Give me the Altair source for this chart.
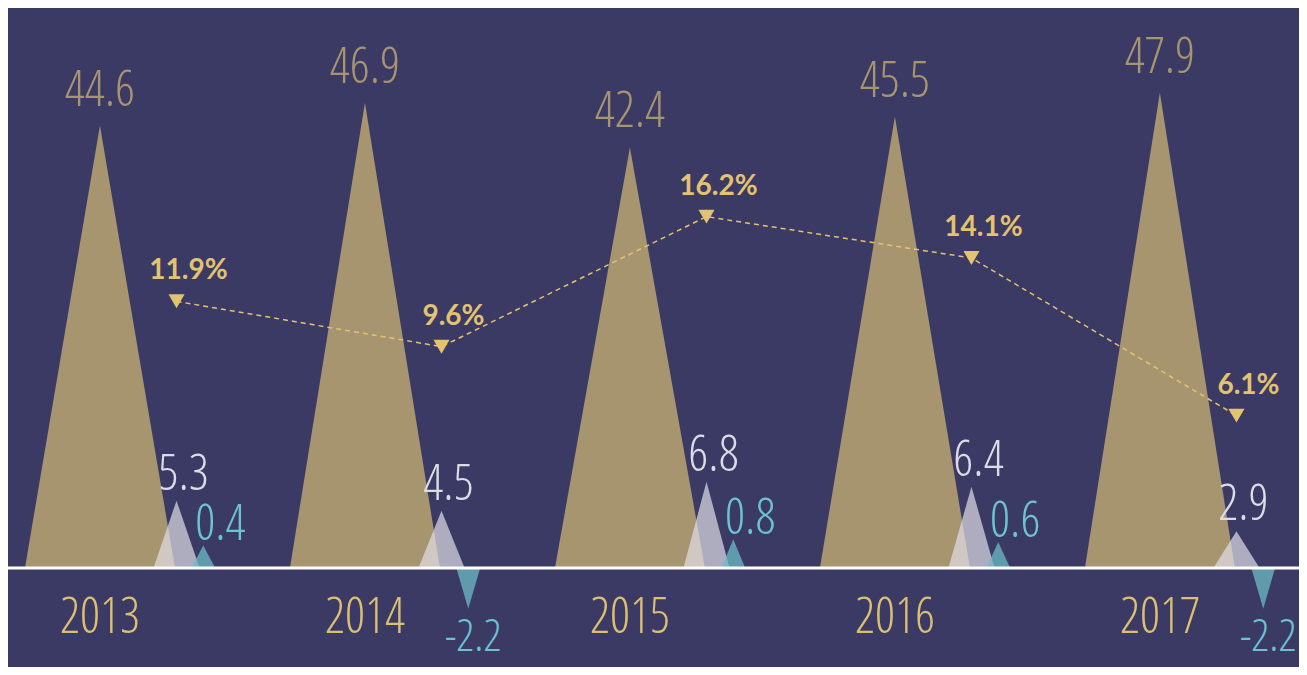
import altair as alt
import pandas as pd

# ---------------- data ----------------
years = ["2013", "2014", "2015", "2016", "2017"]
main_vals = [44.6, 46.9, 42.4, 45.5, 47.9]
second_vals = [5.3, 4.5, 6.8, 6.4, 2.9]
third_vals = [0.4, -2.2, 0.8, 0.6, -2.2]
pct_vals = [11.9, 9.6, 16.2, 14.1, 6.1]

# ---------------- style ----------------
W, H = 1291, 659
BG = "#3a3a64"
TAN = "#a79570"
GREY = "#e0dee7"
TEAL = "#6cbbc5"
GOLD = "#e3c270"
YEAR_C = "#dcbf72"
GREY_TXT = "#dcdce6"
TEAL_TXT = "#6cc3d1"
COND = "Noto Sans ExtraCondensed Light, Noto Sans ExtraCondensed, Open Sans Condensed Light, Liberation Sans Narrow, DejaVu Sans Condensed, sans-serif"
BOLD = "Lato, Open Sans, sans-serif"
NUM_SIZE = 50

OFF_MAIN, HALF_MAIN = 0.0, 0.283
OFF_SEC, HALF_SEC = 0.289, 0.087
OFF_THIRD, HALF_THIRD = 0.39, 0.045

x_scale = alt.Scale(domain=[-0.347, 4.525], nice=False, zero=False)
main_scale = alt.Scale(domain=[-9.98, 56.45], nice=False, zero=False)
sec_scale = alt.Scale(domain=[-7.795, 44.09], nice=False, zero=False)
third_scale = alt.Scale(type="pow", exponent=0.35, domain=[-27.6, 3892], nice=False, zero=False)
pct_scale = alt.Scale(domain=[-6.66, 26.79], nice=False, zero=False)


def triangles(values, offset, half):
    rows = []
    for i, v in enumerate(values):
        for dx, yy in ((-half, 0.0), (0.0, v), (half, 0.0)):
            rows.append({"tri": i, "x": i + offset + dx, "y": yy, "base": 0.0})
    return pd.DataFrame(rows)


df = pd.DataFrame({
    "i": list(range(len(years))),
    "year": years,
    "main": main_vals,
    "second": second_vals,
    "third": third_vals,
    "pct": pct_vals,
    "main_lbl": [f"{v:.1f}" for v in main_vals],
    "second_lbl": [f"{v:.1f}" for v in second_vals],
    "third_lbl": [f"{v:.1f}" for v in third_vals],
    "pct_lbl": [f"{v:.1f}%" for v in pct_vals],
})

base = alt.Chart(df).transform_calculate(
    xm=f"datum.i + {OFF_MAIN}",
    xs=f"datum.i + {OFF_SEC}",
    xt=f"datum.i + {OFF_THIRD}",
)


def tri_layer(values, offset, half, color, scale, opacity):
    return alt.Chart(triangles(values, offset, half)).mark_area(
        color=color, opacity=opacity, interpolate="linear"
    ).encode(
        x=alt.X("x:Q", scale=x_scale, axis=None),
        y=alt.Y("y:Q", scale=scale, axis=None, stack=None),
        y2="base:Q",
        detail="tri:N",
    )


tan_area = tri_layer(main_vals, OFF_MAIN, HALF_MAIN, TAN, main_scale, 1.0)
grey_area = tri_layer(second_vals, OFF_SEC, HALF_SEC, GREY, sec_scale, 0.7)
teal_area = tri_layer(third_vals, OFF_THIRD, HALF_THIRD, TEAL, third_scale, 0.75)

baseline = alt.Chart(pd.DataFrame({"zero": [0.0]})).mark_rule(
    color="#ffffff", strokeWidth=3
).encode(
    x=alt.value(0), x2=alt.value(W),
    y=alt.Y("zero:Q", scale=main_scale, axis=None),
)

tan_text = base.mark_text(
    font=COND, fontSize=NUM_SIZE, color=TAN, baseline="alphabetic", dy=-20
).encode(
    x=alt.X("xm:Q", scale=x_scale, axis=None),
    y=alt.Y("main:Q", scale=main_scale, axis=None),
    text="main_lbl:N",
)

grey_text = base.mark_text(
    font=COND, fontSize=NUM_SIZE, color=GREY_TXT, baseline="alphabetic", dx=7, dy=-11
).encode(
    x=alt.X("xs:Q", scale=x_scale, axis=None),
    y=alt.Y("second:Q", scale=sec_scale, axis=None),
    text="second_lbl:N",
)

teal_text_pos = base.transform_filter("datum.third >= 0").mark_text(
    font=COND, fontSize=NUM_SIZE, color=TEAL_TXT, baseline="alphabetic", dx=17, dy=-5
).encode(
    x=alt.X("xt:Q", scale=x_scale, axis=None),
    y=alt.Y("third:Q", scale=third_scale, axis=None),
    text="third_lbl:N",
)

teal_text_neg = base.transform_filter("datum.third < 0").mark_text(
    font=COND, fontSize=45, color=TEAL_TXT, baseline="alphabetic", dx=5, dy=42
).encode(
    x=alt.X("xt:Q", scale=x_scale, axis=None),
    y=alt.Y("third:Q", scale=third_scale, axis=None),
    text="third_lbl:N",
)

year_text = base.mark_text(
    font=COND, fontSize=NUM_SIZE, color=YEAR_C, baseline="middle"
).encode(
    x=alt.X("xm:Q", scale=x_scale, axis=None),
    y=alt.value(610),
    text="year:N",
)

pct_line = base.mark_line(
    color=GOLD, strokeWidth=1.5, strokeDash=[5, 4]
).encode(
    x=alt.X("xs:Q", scale=x_scale, axis=None),
    y=alt.Y("pct:Q", scale=pct_scale, axis=None),
)

pct_pts = base.mark_point(
    shape="triangle-down", filled=True, color=GOLD, opacity=1, size=260
).encode(
    x=alt.X("xs:Q", scale=x_scale, axis=None),
    y=alt.Y("pct:Q", scale=pct_scale, axis=None),
)

pct_text = base.mark_text(
    font=BOLD, fontWeight="bold", fontSize=28, color=GOLD, baseline="middle", dx=12, dy=-30
).encode(
    x=alt.X("xs:Q", scale=x_scale, axis=None),
    y=alt.Y("pct:Q", scale=pct_scale, axis=None),
    text="pct_lbl:N",
)

chart = alt.layer(
    tan_area, grey_area, teal_area, baseline,
    tan_text, grey_text, teal_text_pos, teal_text_neg, year_text,
    pct_line, pct_pts, pct_text,
).resolve_scale(
    y="independent"
).properties(
    width=W, height=H, padding=0, autosize=alt.AutoSizeParams(type="none"),
    background=BG,
).configure_view(stroke=None)

chart.save("out.html", embed_options={"renderer": "svg", "actions": False})
